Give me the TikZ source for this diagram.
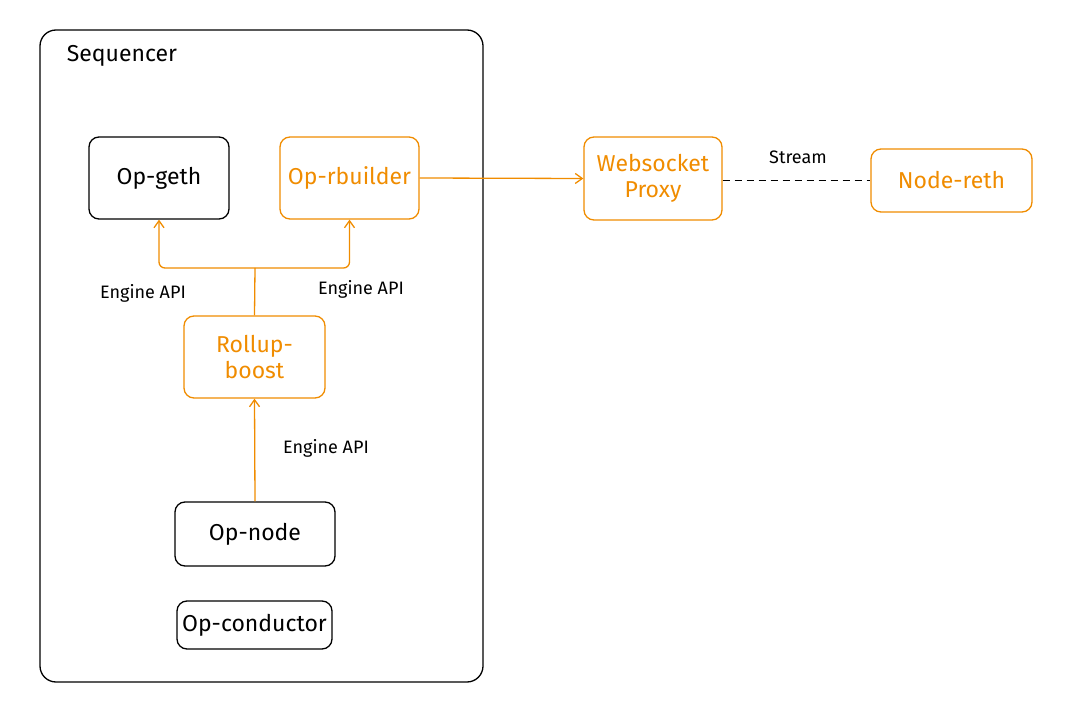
\documentclass[tikz,border=0pt]{standalone}
\usepackage{fontspec}
\setmainfont{Fira Sans}
\usetikzlibrary{arrows.meta}
\definecolor{org}{HTML}{F08C00}
\begin{document}
\begin{tikzpicture}[x=1pt,y=-1pt,
 box/.style={draw,line width=1.3pt,rounded corners=10pt,inner sep=0pt,font=\fontsize{23}{26}\selectfont},
 ob/.style={box,draw=org,text=org},
 lbl/.style={font=\fontsize{18}{20}\selectfont},
 arr/.style={draw=org,line width=1.3pt,-{Straight Barb[length=7pt,width=10pt]}}]
\useasboundingbox (0,0) rectangle (1080,722);
\node[draw,line width=1.3pt,rounded corners=16pt,minimum width=443pt,minimum height=652pt] (seq) at (261.5,356) {};
\node[font=\fontsize{23}{26}\selectfont] (seqt) at (122,56) {Sequencer};
\node[box,minimum width=140pt,minimum height=82pt] (geth) at (159,178) {Op-geth};
\node[ob,minimum width=139pt,minimum height=82pt] (rb) at (349.5,178) {Op-rbuilder};
\node[ob,minimum width=138pt,minimum height=83pt,align=center] (ws) at (653,178.5) {Websocket\\Proxy};
\node[ob,minimum width=161pt,minimum height=63pt] (nr) at (951.5,180.5) {Node-reth};
\node[ob,minimum width=141pt,minimum height=82pt,align=center] (rub) at (254.5,357) {Rollup-\\boost};
\node[box,minimum width=160pt,minimum height=64pt] (on) at (255,534) {Op-node};
\node[box,minimum width=155pt,minimum height=48pt] (oc) at (254.5,625) {Op-conductor};
\coordinate (j) at (255,268);
\draw[arr] (rb.east) -- (ws.west);
\draw[dash pattern=on 7pt off 5pt,line width=1.2pt] (ws.east |- nr.west) -- (nr.west);
\node[lbl] (st) at (798,157) {Stream};
\draw[draw=org,line width=1.3pt] (rub.north) -- (j);
\draw[arr,rounded corners=6pt] (j) -- (159,268) -- (geth.south);
\draw[arr,rounded corners=6pt] (j) -- (349.5,268) -- (rb.south);
\draw[arr] (on.north) -- (rub.south);
\node[lbl] (l1) at (143,293) {Engine API};
\node[lbl] (l2) at (361,289) {Engine API};
\node[lbl] (l3) at (326,448) {Engine API};
\end{tikzpicture}
\end{document}
